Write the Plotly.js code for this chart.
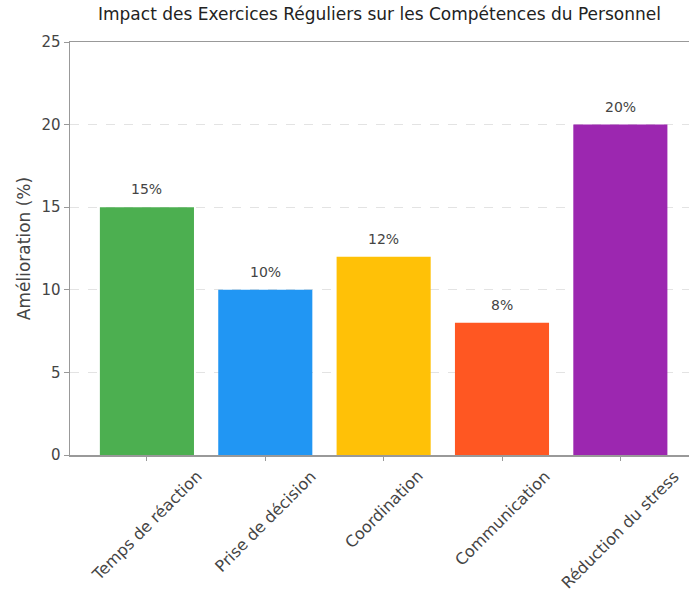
<!DOCTYPE html>
<html>
<head>
<meta charset="utf-8">
<script src="https://cdn.plot.ly/plotly-3.0.1.min.js"></script>
<style>html,body{margin:0;padding:0;overflow:hidden;background:#fff;}</style>
</head>
<body>
<div id="chart" style="width:689px;height:597px;"></div>
<script>
const categories = ["Temps de réaction", "Prise de décision", "Coordination", "Communication", "Réduction du stress"];
const values = [15, 10, 12, 8, 20];
const colors = ["#4CAF50", "#2196F3", "#FFC107", "#FF5722", "#9C27B0"];
const labels = values.map(v => v + "%");

const FONT = "DejaVu Sans, sans-serif";

// value labels above bars
const valueAnnotations = categories.map((c, i) => ({
  x: c, y: values[i], xref: "x", yref: "y",
  text: labels[i], showarrow: false,
  yanchor: "bottom", yshift: 8,
  font: {family: FONT, size: 14, color: "#444"}
}));

// rotated category labels centred under each tick
const tickAnnotations = categories.map(c => ({
  x: c, y: 0, xref: "x", yref: "y",
  text: c, showarrow: false, textangle: -45,
  xanchor: "center", yanchor: "top", yshift: -9,
  font: {family: FONT, size: 16, color: "#444"}
}));

Plotly.newPlot("chart", [{
  type: "bar",
  x: categories,
  y: values,
  marker: {color: colors},
  hoverinfo: "none"
}], {
  width: 689,
  height: 597,
  margin: {l: 70, r: 0, t: 42, b: 142},
  paper_bgcolor: "#fff",
  plot_bgcolor: "#fff",
  bargap: 0.205,
  annotations: valueAnnotations.concat(tickAnnotations),
  title: {
    text: "Impact des Exercices Réguliers sur les Compétences du Personnel",
    font: {family: FONT, size: 17, color: "#222"},
    x: 0.5, xref: "paper", xanchor: "center",
    y: 1, yref: "container", yanchor: "top", pad: {t: 8}
  },
  xaxis: {
    range: [-0.65, 4.58],
    showline: true, linecolor: "#999", linewidth: 1.5, mirror: true,
    ticks: "outside", ticklen: 4, tickcolor: "#999",
    showticklabels: false,
    showgrid: false,
    fixedrange: true
  },
  yaxis: {
    range: [0, 25],
    tickvals: [0, 5, 10, 15, 20, 25],
    showline: true, linecolor: "#999", linewidth: 1.5,
    ticks: "outside", ticklen: 5, tickcolor: "#999",
    tickfont: {family: FONT, size: 15, color: "#444"},
    showgrid: true, gridcolor: "#e3e3e3", griddash: "dash", gridwidth: 1,
    zeroline: false,
    title: {text: "Amélioration (%)", font: {family: FONT, size: 17, color: "#444"}, standoff: 6},
    fixedrange: true
  },
  showlegend: false
}, {displayModeBar: false, staticPlot: true});
</script>
</body>
</html>
